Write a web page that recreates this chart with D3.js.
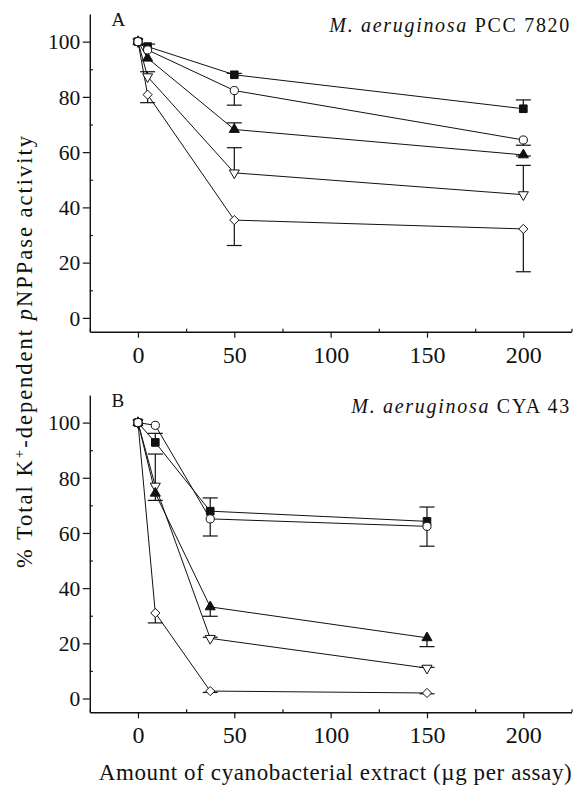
<!DOCTYPE html>
<html><head><meta charset="utf-8">
<script src="https://cdn.jsdelivr.net/npm/d3@7"></script>
<style>body{margin:0;background:#fff}svg{display:block}text{font-family:"Liberation Serif","Times New Roman",serif;fill:#111}</style>
</head><body><svg id="c" width="574" height="786"></svg>
<script>
// ---- data ----
const seriesNames = ["square", "circle", "triangle", "invTriangle", "diamond"];
const xA = [0, 5, 50, 200];
const squareA = [100, 98.2, 88, 75.7];
const circleA = [100, 97, 82.3, 64.4];
const triangleA = [100, 94, 68.2, 59];
const invTriangleA = [100, 87.3, 52.5, 44.6];
const diamondA = [100, 80.8, 35.4, 32.2];
const errSquareA = [0, 0.9, 0.5, 3.2];      // upward
const errCircleA = [0, 0, -5.3, -1.9];      // negative = downward
const errTriangleA = [0, 0, 2.4, -0.4];
const errInvTriangleA = [0, 1.8, 9.1, 10.6];
const errDiamondA = [0, -2.9, -9.2, -15.5];

const xB = [0, 9, 37.5, 150];
const squareB = [100, 92.8, 67.9, 64.2];
const circleB = [100, 99, 65.1, 62.4];
const triangleB = [100, 74.4, 33.2, 22];
const invTriangleB = [100, 77, 21.8, 11];
const diamondB = [100, 31, 2.7, 2];
const errSquareB = [0, 3.3, 4.8, 5.2];
const errCircleB = [0, 0, -6.2, -7.2];
const errTriangleB = [0, -2.6, -3.4, -3.2];
const errInvTriangleB = [0, 11.6, 0.4, 0.3];
const errDiamondB = [0, -3.6, -0.5, -0.3];

const xTicks = [0, 50, 100, 150, 200];
const xMinor = [-25, 25, 75, 125, 175, 225];
const yTicks = [0, 20, 40, 60, 80, 100];
const yMinor = [10, 30, 50, 70, 90];
const xDomain = [-25, 225];
const yDomain = [-5, 110];

const panels = [
  {letter: "A", strainIt: "M. aeruginosa", strain: " PCC 7820", x: xA,
   ys: [squareA, circleA, triangleA, invTriangleA, diamondA],
   es: [errSquareA, errCircleA, errTriangleA, errInvTriangleA, errDiamondA],
   top: 14, bottom: 331.7, titleW: 240},
  {letter: "B", strainIt: "M. aeruginosa", strain: " CYA 43", x: xB,
   ys: [squareB, circleB, triangleB, invTriangleB, diamondB],
   es: [errSquareB, errCircleB, errTriangleB, errInvTriangleB, errDiamondB],
   top: 395, bottom: 712.3, titleW: 218}
];

// ---- drawing ----
const svg = d3.select("#c");
const X0 = 89.8, X1 = 571.5;
const col = "#111";
function fitWidth(sel, target) {
  const node = sel.node();
  const len = node.getComputedTextLength();
  const n = node.textContent.length;
  if (n > 1) sel.attr("letter-spacing", ((target - len) / (n - 1)).toFixed(3));
}
const diamondType = {draw(ctx, size){ const r = Math.sqrt(size/2); ctx.moveTo(0,-r); ctx.lineTo(r,0); ctx.lineTo(0,r); ctx.lineTo(-r,0); ctx.closePath(); }};
const symDefs = {
  square: {type: d3.symbolSquare, size: 58, fill: col, rot: 0},
  circle: {type: d3.symbolCircle, size: 52, fill: "#fff", rot: 0},
  triangle: {type: d3.symbolTriangle, size: 44, fill: col, rot: 0},
  invTriangle: {type: d3.symbolTriangle, size: 44, fill: "#fff", rot: 180},
  diamond: {type: diamondType, size: 42, fill: "#fff", rot: 0}
};
const drawOrder = [4, 3, 2, 0, 1];

panels.forEach(p => {
  const x = d3.scaleLinear().domain(xDomain).range([X0, X1]);
  const y = d3.scaleLinear().domain(yDomain).range([p.bottom, p.top]);
  const g = svg.append("g");

  // axes
  const ax = g.append("g").attr("transform", `translate(0,${p.bottom})`)
    .call(d3.axisBottom(x).tickValues(xTicks).tickSize(6).tickSizeOuter(0));
  g.append("g").attr("transform", `translate(0,${p.bottom})`)
    .call(d3.axisBottom(x).tickValues(xMinor).tickSize(-3).tickSizeOuter(0).tickFormat(""))
    .select(".domain").remove();
  const ay = g.append("g").attr("transform", `translate(${X0},0)`)
    .call(d3.axisLeft(y).tickValues(yTicks).tickSize(7).tickSizeOuter(0).tickPadding(2.5));
  g.append("g").attr("transform", `translate(${X0},0)`)
    .call(d3.axisLeft(y).tickValues(yMinor).tickSize(-3).tickSizeOuter(0).tickFormat(""))
    .select(".domain").remove();
  g.selectAll(".domain").attr("stroke", col).attr("stroke-width", 1.4);
  g.selectAll(".tick line").attr("stroke", col).attr("stroke-width", 1.2);
  ax.selectAll(".tick text").attr("font-size", 24).attr("fill", col).attr("y", 31).attr("dy", 0);
  ay.selectAll(".tick text").attr("font-size", 21.5).attr("fill", col).attr("dy", "0.34em");

  // lines
  const line = d3.line().x((d, i) => x(p.x[i])).y(d => y(d));
  p.ys.forEach(vals => {
    g.append("path").attr("d", line(vals)).attr("fill", "none").attr("stroke", col).attr("stroke-width", 1);
  });
  // error bars
  p.ys.forEach((vals, s) => {
    vals.forEach((v, i) => {
      const e = p.es[s][i];
      if (!e) return;
      const xx = x(p.x[i]);
      g.append("line").attr("x1", xx).attr("x2", xx).attr("y1", y(v)).attr("y2", y(v + e))
        .attr("stroke", col).attr("stroke-width", 1.2);
      g.append("line").attr("x1", xx - 7.5).attr("x2", xx + 7.5).attr("y1", y(v + e)).attr("y2", y(v + e))
        .attr("stroke", col).attr("stroke-width", 1.2);
    });
  });
  // markers
  drawOrder.forEach(s => {
    const def = symDefs[seriesNames[s]];
    const sym = d3.symbol().type(def.type).size(def.size);
    p.ys[s].forEach((v, i) => {
      g.append("path").attr("d", sym())
        .attr("transform", `translate(${x(p.x[i])},${y(v)}) rotate(${def.rot})`)
        .attr("fill", def.fill).attr("stroke", col).attr("stroke-width", 1);
    });
  });

  // panel labels
  g.append("text").attr("x", 111.5).attr("y", p.top + 11.5).attr("font-size", 19).text(p.letter);
  const t = g.append("text").attr("x", 571).attr("y", p.top + 18).attr("text-anchor", "end").attr("font-size", 20);
  t.append("tspan").attr("font-style", "italic").text(p.strainIt);
  t.append("tspan").text(p.strain);
  fitWidth(t, p.titleW);
});

// axis titles
const yl = svg.append("text").attr("transform", "translate(31.5,351) rotate(-90)")
  .attr("text-anchor", "middle").attr("font-size", 22.5);
yl.append("tspan").text("% Total K");
yl.append("tspan").attr("font-size", 15).attr("dy", -8).text("+");
yl.append("tspan").attr("dy", 8).text("-dependent ");
yl.append("tspan").attr("font-style", "italic").text("p");
yl.append("tspan").text("NPPase activity");
fitWidth(yl, 432);

const xl = svg.append("text").attr("x", 335.5).attr("y", 779.5).attr("text-anchor", "middle").attr("font-size", 23)
  .text("Amount of cyanobacterial extract (\u00B5g per assay)");
fitWidth(xl, 473);
</script></body></html>
